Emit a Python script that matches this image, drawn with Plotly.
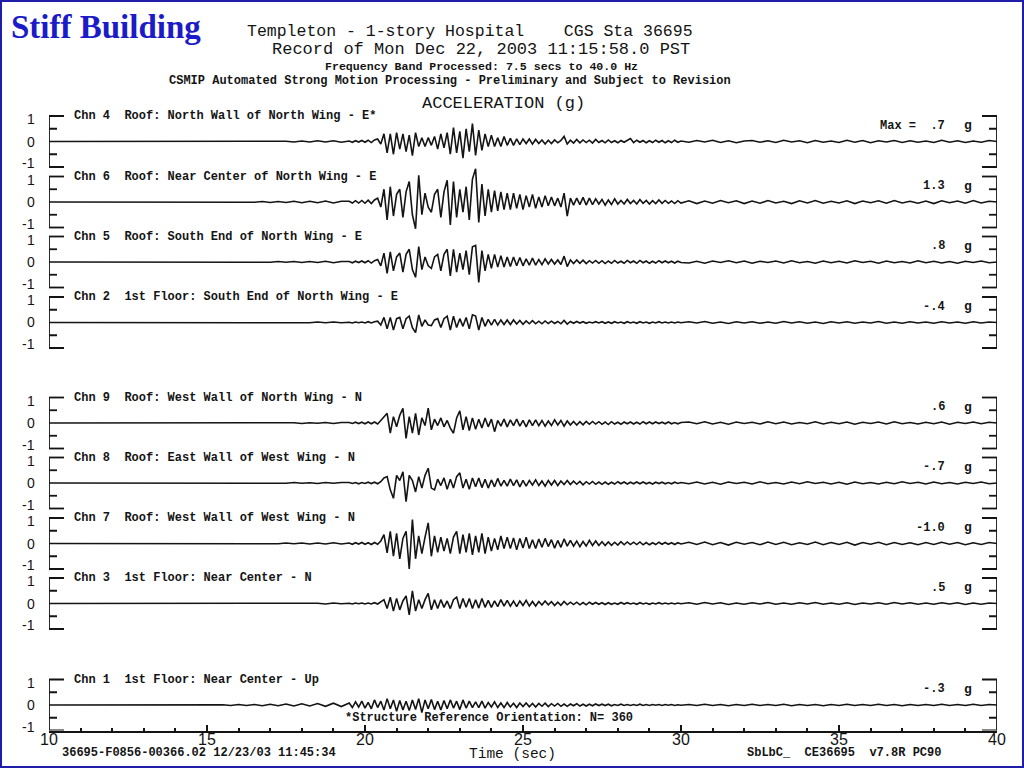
import numpy as np
import plotly.graph_objects as go

# ---------------- data ----------------
CHANNEL_LABELS = [
    "Chn 4  Roof: North Wall of North Wing - E*",
    "Chn 6  Roof: Near Center of North Wing - E",
    "Chn 5  Roof: South End of North Wing - E",
    "Chn 2  1st Floor: South End of North Wing - E",
    "Chn 9  Roof: West Wall of North Wing - N",
    "Chn 8  Roof: East Wall of West Wing - N",
    "Chn 7  Roof: West Wall of West Wing - N",
    "Chn 3  1st Floor: Near Center - N",
    "Chn 1  1st Floor: Near Center - Up",
]
MAX_VALUES = ["Max =  .7", "1.3", ".8", "-.4", ".6", "-.7", "-1.0", ".5", "-.3"]
Y_TICK_VALS = [-1, 0, 1]
Y_TICK_TEXT = ["-1", "0", "1"]
X_TICK_VALS = [10, 15, 20, 25, 30, 35, 40]
X_TICK_TEXT = ["10", "15", "20", "25", "30", "35", "40"]

# sample times (s): quiet lead-in, strong-motion window, coda
PRE_T = np.round(np.arange(15.0, 19.26, 0.25), 2)     # 18 samples
MAIN_T = np.round(np.arange(19.5, 30.001, 0.1), 2)    # 106 samples
TAIL_T = np.round(np.arange(30.25, 40.001, 0.25), 2)  # 40 samples

# accelerations (g) read from the record
chn4_pre = [0, 0, 0, 0, 0, 0, 0, 0, 0.01, -0.01, 0.01, -0.02, 0.02, -0.02, 0.03, -0.02, 0.03, -0.03]
chn4_main = [
    0.02, -0.03, 0.03, -0.02, 0.04, -0.03, 0.05, -0.04, 0.06, 0.1,
    -0.1, 0.3, -0.45, 0.3, -0.5, 0.35, -0.3, 0.3, -0.4, 0.25,
    -0.55, 0.35, -0.2, 0.15, -0.2, 0.15, -0.15, 0.2, -0.3, 0.3,
    -0.25, 0.35, -0.5, 0.55, -0.45, 0.4, -0.65, 0.5, -0.4, 0.7,
    -0.55, 0.45, -0.35, 0.3, -0.2, 0.25, -0.2, 0.15, -0.2, 0.2,
    -0.15, 0.12, -0.15, 0.1, -0.12, 0.1, -0.08, 0.1, -0.1, 0.08,
    -0.08, 0.06, -0.1, 0.05, -0.08, 0.06, -0.05, 0.04, 0.2, -0.1,
    0.05, -0.06, 0.08, -0.05, 0.06, -0.04, 0.05, -0.06, 0.08, -0.04,
    0.04, -0.05, 0.06, -0.04, 0.03, -0.05, 0.04, -0.03, 0.05, 0.12,
    -0.04, 0.05, -0.03, 0.04, -0.05, 0.03, -0.04, 0.05, -0.03, 0.04,
    -0.05, 0.03, -0.04, 0.05, -0.03, 0.02,
]
chn4_tail = [
    -0.03, 0.04, -0.02, 0.05, -0.04, 0.03, -0.05, 0.02, 0.04, -0.03,
    0.03, -0.04, 0.05, -0.02, 0.03, -0.05, 0.04, -0.03, 0.02, -0.04,
    0.05, -0.03, 0.04, -0.05, 0.03, -0.02, 0.04, -0.04, 0.03, -0.03,
    0.02, -0.04, 0.05, -0.03, 0.03, -0.04, 0.02, -0.03, 0.04, 0.0,
]

chn6_pre = [0, 0, 0, 0.01, -0.01, 0.01, -0.01, 0.02, -0.02, 0.02, -0.02, 0.03, -0.03, 0.03, -0.03, 0.04, -0.04, 0.03]
chn6_main = [
    0.03, -0.04, 0.05, -0.04, 0.06, -0.05, 0.07, -0.06, 0.08, 0.15,
    -0.2, 0.5, -0.7, 0.6, -0.55, 0.3, 0.5, -0.6, 0.4, 0.8,
    -0.5, -1.05, 1.05, -0.5, 0.35, -0.2, -0.4, 0.3, 0.5, -0.6,
    0.4, 0.85, -0.9, 0.8, -0.6, 0.5, -0.4, 0.6, -0.7, 0.9,
    1.3, -0.8, 0.7, -0.55, 0.5, -0.4, 0.45, -0.35, 0.4, -0.3,
    0.35, -0.3, 0.35, -0.25, 0.3, -0.3, 0.25, -0.2, 0.3, -0.25,
    0.2, -0.2, 0.25, -0.15, 0.2, -0.15, 0.15, -0.2, 0.35, -0.55,
    0.15, -0.12, 0.15, -0.1, 0.18, -0.12, 0.15, -0.1, 0.12, -0.08,
    0.1, -0.12, 0.08, -0.1, 0.12, -0.08, 0.06, -0.08, 0.1, -0.06,
    0.06, -0.08, 0.1, -0.05, 0.06, -0.08, 0.05, -0.06, 0.08, -0.05,
    0.06, -0.05, 0.04, -0.06, 0.05, -0.04,
]
chn6_tail = [
    0.05, -0.06, 0.04, -0.05, 0.06, -0.03, 0.05, -0.06, 0.04, -0.05,
    0.06, -0.04, 0.03, -0.06, 0.05, -0.04, 0.06, -0.05, 0.03, -0.04,
    0.05, -0.06, 0.04, -0.03, 0.05, -0.05, 0.06, -0.04, 0.03, -0.05,
    0.04, -0.06, 0.05, -0.03, 0.04, -0.05, 0.06, -0.04, 0.03, 0.0,
]

chn5_pre = [0, 0, 0, 0, 0, 0.01, -0.01, 0.01, -0.01, 0.02, -0.01, 0.02, -0.02, 0.02, -0.02, 0.03, -0.03, 0.02]
chn5_main = [
    0.02, -0.03, 0.03, -0.02, 0.04, -0.03, 0.05, -0.04, 0.05, 0.1,
    -0.15, 0.35, -0.45, 0.4, -0.35, 0.2, 0.35, -0.4, 0.3, 0.5,
    -0.3, -0.6, 0.6, -0.3, 0.2, -0.15, -0.25, 0.2, 0.3, -0.35,
    0.3, 0.5, -0.55, 0.5, -0.4, 0.35, -0.3, 0.45, -0.5, 0.6,
    0.65, -0.8, 0.45, -0.35, 0.3, -0.25, 0.3, -0.2, 0.25, -0.2,
    0.2, -0.18, 0.2, -0.15, 0.18, -0.15, 0.12, -0.12, 0.15, -0.12,
    0.1, -0.1, 0.12, -0.08, 0.1, -0.08, 0.08, -0.1, 0.23, -0.18,
    0.08, -0.06, 0.08, -0.05, 0.07, -0.06, 0.05, -0.04, 0.06, -0.05,
    0.05, -0.06, 0.04, -0.05, 0.06, -0.04, 0.03, -0.05, 0.06, -0.03,
    0.04, -0.05, 0.06, -0.03, 0.04, -0.05, 0.03, -0.04, 0.05, -0.03,
    0.04, -0.03, 0.03, -0.04, 0.03, -0.02,
]
chn5_tail = [
    -0.04, 0.03, -0.05, 0.04, -0.02, 0.05, -0.03, 0.04, -0.05, 0.03,
    -0.02, 0.04, -0.04, 0.05, -0.03, 0.02, -0.05, 0.04, -0.03, 0.03,
    -0.04, 0.05, -0.02, 0.03, -0.05, 0.04, -0.03, 0.02, -0.04, 0.05,
    -0.03, 0.03, -0.04, 0.02, -0.05, 0.03, -0.02, 0.04, -0.03, 0.0,
]

chn2_pre = [0, 0, 0, 0, 0, 0, 0, 0, 0.01, -0.01, 0.01, -0.01, 0.01, -0.01, 0.02, -0.01, 0.02, -0.01]
chn2_main = [
    0.01, -0.02, 0.02, -0.01, 0.02, -0.02, 0.03, -0.02, 0.03, 0.05,
    -0.1, 0.2, -0.25, 0.2, -0.3, 0.15, 0.2, -0.25, 0.15, 0.25,
    -0.2, -0.4, 0.3, -0.15, 0.1, -0.1, -0.12, 0.1, 0.15, -0.2,
    0.15, 0.25, -0.3, 0.25, -0.2, 0.15, -0.15, 0.2, -0.25, 0.3,
    0.25, -0.3, 0.2, -0.15, 0.12, -0.1, 0.12, -0.1, 0.1, -0.08,
    0.1, -0.08, 0.1, -0.06, 0.08, -0.07, 0.06, -0.05, 0.07, -0.05,
    0.05, -0.05, 0.06, -0.04, 0.05, -0.04, 0.04, -0.05, 0.08, -0.06,
    0.04, -0.03, 0.04, -0.02, 0.03, -0.03, 0.02, -0.02, 0.03, -0.02,
    0.03, -0.03, 0.02, -0.03, 0.03, -0.02, 0.02, -0.03, 0.03, -0.02,
    0.02, -0.03, 0.03, -0.02, 0.02, -0.03, 0.02, -0.02, 0.03, -0.02,
    0.02, -0.02, 0.02, -0.02, 0.02, -0.01,
]
chn2_tail = [
    0.03, -0.02, 0.04, -0.03, 0.02, -0.04, 0.03, -0.02, 0.03, -0.03,
    0.02, -0.03, 0.04, -0.02, 0.03, -0.03, 0.02, -0.04, 0.03, -0.02,
    0.03, -0.03, 0.02, -0.02, 0.04, -0.03, 0.02, -0.03, 0.03, -0.02,
    0.02, -0.03, 0.03, -0.02, 0.02, -0.03, 0.03, -0.02, 0.02, 0.0,
]

chn9_pre = [0, 0, 0, 0, 0, 0, 0, 0.01, -0.01, 0.01, -0.01, 0.01, -0.02, 0.01, -0.01, 0.02, -0.02, 0.02]
chn9_main = [
    0.02, -0.02, 0.03, -0.02, 0.03, -0.03, 0.04, -0.03, 0.04, -0.04,
    0.1, 0.25, 0.38, -0.4, 0.25, -0.15, 0.3, 0.58, -0.6, 0.25,
    -0.4, 0.38, -0.47, 0.2, -0.1, 0.58, -0.27, 0.15, -0.1, 0.2,
    -0.15, 0.1, -0.2, -0.4, 0.2, 0.48, -0.27, 0.25, -0.3, 0.2,
    -0.25, 0.15, -0.2, 0.2, -0.15, 0.15, -0.34, 0.1, -0.12, 0.15,
    -0.15, 0.12, -0.1, 0.15, -0.12, 0.1, -0.15, 0.12, -0.1, 0.12,
    -0.1, 0.1, -0.12, 0.08, -0.1, 0.12, -0.08, 0.1, -0.12, 0.08,
    -0.08, 0.06, -0.08, 0.05, -0.07, 0.06, -0.05, 0.06, -0.04, 0.05,
    -0.05, 0.04, -0.06, 0.05, -0.04, 0.03, -0.05, 0.04, -0.03, 0.04,
    -0.04, 0.03, -0.04, 0.05, -0.03, 0.04, -0.03, 0.04, -0.02, 0.03,
    -0.03, 0.04, -0.03, 0.02, -0.03, 0.02,
]
chn9_tail = [
    0.04, -0.03, 0.05, -0.04, 0.03, -0.05, 0.04, -0.02, 0.03, -0.04,
    0.05, -0.03, 0.04, -0.04, 0.02, -0.03, 0.05, -0.04, 0.03, -0.03,
    0.04, -0.05, 0.03, -0.02, 0.04, -0.04, 0.05, -0.03, 0.02, -0.04,
    0.03, -0.03, 0.04, -0.05, 0.03, -0.02, 0.04, -0.03, 0.03, 0.0,
]

chn8_pre = [0, 0, 0, 0, 0, 0, 0, 0.01, -0.01, 0.01, -0.01, 0.02, -0.01, 0.01, -0.02, 0.02, -0.01, 0.02]
chn8_main = [
    0.02, -0.02, 0.02, -0.03, 0.02, -0.02, 0.03, -0.02, 0.03, -0.03,
    0.05, 0.2, 0.25, -0.27, -0.6, 0.3, 0.1, 0.44, -0.73, 0.3,
    0.1, -0.35, 0.25, -0.2, 0.3, 0.58, -0.2, -0.27, 0.15, -0.1,
    0.2, -0.25, 0.15, -0.2, 0.25, 0.4, -0.2, 0.15, -0.25, 0.2,
    -0.15, 0.2, -0.18, 0.15, -0.2, 0.12, -0.15, 0.18, -0.12, 0.1,
    -0.12, 0.15, -0.1, 0.12, -0.15, 0.1, -0.12, 0.1, -0.08, 0.12,
    -0.1, 0.08, -0.12, 0.1, -0.08, 0.1, -0.1, 0.08, -0.06, 0.1,
    -0.06, 0.07, -0.05, 0.06, -0.07, 0.05, -0.04, 0.06, -0.05, 0.04,
    -0.05, 0.04, -0.05, 0.03, -0.04, 0.05, -0.03, 0.04, -0.04, 0.03,
    -0.03, 0.04, -0.03, 0.04, -0.03, 0.02, -0.04, 0.03, -0.02, 0.03,
    -0.03, 0.02, -0.03, 0.03, -0.02, 0.02,
]
chn8_tail = [
    -0.03, 0.04, -0.04, 0.03, -0.05, 0.04, -0.02, 0.03, -0.04, 0.05,
    -0.03, 0.02, -0.04, 0.04, -0.03, 0.05, -0.02, 0.03, -0.04, 0.03,
    -0.05, 0.04, -0.03, 0.02, -0.04, 0.03, -0.03, 0.05, -0.02, 0.03,
    -0.04, 0.04, -0.03, 0.02, -0.04, 0.03, -0.02, 0.04, -0.03, 0.0,
]

chn7_pre = [0, 0, 0, 0, 0, 0, 0.01, -0.01, 0.01, -0.01, 0.02, -0.01, 0.02, -0.02, 0.02, -0.02, 0.03, -0.02]
chn7_main = [
    0.02, -0.03, 0.03, -0.02, 0.04, -0.03, 0.03, -0.04, 0.04, -0.03,
    0.1, 0.35, -0.37, 0.48, -0.5, 0.4, -0.6, 0.2, 0.48, -1.0,
    0.94, -0.6, 0.3, -0.4, 0.25, 0.81, -0.5, 0.3, -0.35, 0.25,
    -0.3, 0.2, -0.4, 0.25, 0.48, -0.4, 0.35, -0.35, 0.4, -0.45,
    0.3, -0.35, 0.4, -0.4, 0.25, -0.3, 0.2, -0.25, 0.3, -0.2,
    0.25, -0.2, 0.22, -0.25, 0.2, -0.18, 0.25, -0.2, 0.15, -0.2,
    0.18, -0.15, 0.2, -0.12, 0.15, -0.18, 0.12, -0.15, 0.18, -0.1,
    0.12, -0.1, 0.1, -0.12, 0.08, -0.1, 0.12, -0.08, 0.1, -0.08,
    0.07, -0.08, 0.06, -0.07, 0.05, -0.06, 0.07, -0.05, 0.06, -0.04,
    0.05, -0.04, 0.06, -0.05, 0.04, -0.05, 0.03, -0.04, 0.05, -0.03,
    0.04, -0.03, 0.03, -0.04, 0.03, -0.02,
]
chn7_tail = [
    0.05, -0.04, 0.06, -0.05, 0.04, -0.06, 0.05, -0.03, 0.04, -0.05,
    0.06, -0.04, 0.05, -0.05, 0.03, -0.04, 0.06, -0.05, 0.04, -0.04,
    0.05, -0.06, 0.04, -0.03, 0.05, -0.05, 0.04, -0.04, 0.03, -0.05,
    0.04, -0.04, 0.05, -0.03, 0.04, -0.05, 0.03, -0.04, 0.04, 0.0,
]

chn3_pre = [0, 0, 0, 0, 0, 0, 0, 0, 0.01, -0.01, 0.01, -0.01, 0.01, -0.01, 0.01, -0.02, 0.02, -0.01]
chn3_main = [
    0.01, -0.02, 0.02, -0.01, 0.02, -0.02, 0.02, -0.02, 0.03, -0.02,
    0.05, 0.15, -0.2, 0.25, -0.3, 0.2, -0.25, 0.1, 0.3, -0.45,
    0.5, -0.3, 0.15, -0.2, 0.15, 0.4, -0.25, 0.15, -0.2, 0.15,
    -0.15, 0.1, -0.2, 0.15, 0.25, -0.2, 0.2, -0.15, 0.2, -0.2,
    0.15, -0.18, 0.2, -0.15, 0.12, -0.15, 0.1, -0.12, 0.15, -0.1,
    0.12, -0.1, 0.1, -0.12, 0.1, -0.08, 0.12, -0.1, 0.08, -0.1,
    0.08, -0.06, 0.1, -0.05, 0.07, -0.08, 0.05, -0.07, 0.08, -0.05,
    0.05, -0.04, 0.05, -0.05, 0.04, -0.05, 0.05, -0.03, 0.04, -0.03,
    0.03, -0.04, 0.03, -0.03, 0.02, -0.03, 0.04, -0.02, 0.03, -0.02,
    0.02, -0.03, 0.03, -0.02, 0.02, -0.03, 0.02, -0.02, 0.03, -0.02,
    0.02, -0.02, 0.02, -0.02, 0.02, -0.01,
]
chn3_tail = [
    0.03, -0.03, 0.04, -0.02, 0.03, -0.04, 0.02, -0.03, 0.03, -0.02,
    0.04, -0.03, 0.02, -0.03, 0.03, -0.02, 0.04, -0.03, 0.02, -0.03,
    0.03, -0.04, 0.02, -0.02, 0.03, -0.03, 0.04, -0.02, 0.03, -0.03,
    0.02, -0.03, 0.03, -0.02, 0.03, -0.04, 0.02, -0.03, 0.02, 0.0,
]

chn1_pre = [0.01, -0.01, 0.01, -0.02, 0.02, -0.02, 0.02, -0.03, 0.03, -0.03, 0.04, -0.04, 0.05, -0.04, 0.06, -0.05, 0.07, -0.06]
chn1_main = [
    0.08, -0.1, 0.12, -0.08, 0.15, -0.12, 0.1, -0.15, 0.2, -0.1,
    0.15, -0.2, 0.25, -0.15, 0.2, -0.25, 0.18, -0.2, 0.15, -0.22,
    0.2, -0.18, 0.25, -0.3, 0.2, -0.15, 0.22, -0.18, 0.15, -0.2,
    0.18, -0.15, 0.2, -0.12, 0.15, -0.18, 0.2, -0.12, 0.15, -0.1,
    0.12, -0.1, 0.15, -0.12, 0.1, -0.08, 0.12, -0.1, 0.08, -0.1,
    0.1, -0.08, 0.07, -0.1, 0.08, -0.06, 0.08, -0.07, 0.06, -0.08,
    0.06, -0.05, 0.07, -0.06, 0.05, -0.04, 0.06, -0.05, 0.04, -0.05,
    0.04, -0.03, 0.05, -0.04, 0.03, -0.04, 0.03, -0.03, 0.04, -0.02,
    0.03, -0.02, 0.03, -0.03, 0.02, -0.02, 0.03, -0.02, 0.02, -0.02,
    0.02, -0.02, 0.03, -0.02, 0.02, -0.02, 0.02, -0.01, 0.02, -0.02,
    0.02, -0.01, 0.02, -0.02, 0.01, -0.01,
]
chn1_tail = [
    0.02, -0.02, 0.03, -0.02, 0.02, -0.03, 0.02, -0.02, 0.03, -0.02,
    0.02, -0.02, 0.03, -0.03, 0.02, -0.02, 0.02, -0.03, 0.02, -0.02,
    0.03, -0.02, 0.02, -0.02, 0.03, -0.02, 0.02, -0.03, 0.02, -0.02,
    0.02, -0.02, 0.03, -0.02, 0.02, -0.02, 0.03, -0.02, 0.02, 0.0,
]

SERIES = [
    (chn4_pre, chn4_main, chn4_tail),
    (chn6_pre, chn6_main, chn6_tail),
    (chn5_pre, chn5_main, chn5_tail),
    (chn2_pre, chn2_main, chn2_tail),
    (chn9_pre, chn9_main, chn9_tail),
    (chn8_pre, chn8_main, chn8_tail),
    (chn7_pre, chn7_main, chn7_tail),
    (chn3_pre, chn3_main, chn3_tail),
    (chn1_pre, chn1_main, chn1_tail),
]

# ---------------- layout / style ----------------
W, H = 1024, 768
MONO = "Liberation Mono"
SANS = "Liberation Sans"
INK = "#141414"
ZERO_PX = [141.5, 202, 262, 322.5, 423, 483, 543.5, 603.5, 705]  # panel centre lines (px)
HALF = 25.5      # px per 1 g
R = 1.45         # headroom for peaks above 1 g
X_LEFT_PX, X_RIGHT_PX = 49, 997
TICK_LABEL_SHIFT = {-1: 4, 0: 0, 1: -3}   # px nudges so stacked -1 / 1 labels don't collide


def py(px):
    return 1 - px / H


fig = go.Figure()
layout = dict(
    width=W, height=H,
    margin=dict(l=0, r=0, t=0, b=0),
    paper_bgcolor="white", plot_bgcolor="rgba(0,0,0,0)",
    showlegend=False,
)
shapes = []
annotations = []

n = len(SERIES)
for k, (pre, main, tail) in enumerate(SERIES):
    assert len(pre) == len(PRE_T) and len(main) == len(MAIN_T) and len(tail) == len(TAIL_T), k
    yname = "y" if k == 0 else f"y{k + 1}"
    ykey = "yaxis" if k == 0 else f"yaxis{k + 1}"
    z = ZERO_PX[k]
    if k == n - 1:
        rng = [-1, R]
        dom = [py(z + HALF), py(z - R * HALF)]
    else:
        rng = [-R, R]
        dom = [py(z + R * HALF), py(z - R * HALF)]
    layout[ykey] = dict(
        domain=dom, range=rng, anchor="x",
        tickmode="array", tickvals=Y_TICK_VALS, ticktext=Y_TICK_TEXT,
        showticklabels=False,
        ticks="", showline=False, showgrid=False, zeroline=False,
        automargin=False, fixedrange=True,
    )
    t = np.concatenate([[10.0], PRE_T, MAIN_T, TAIL_T])
    v = np.concatenate([[0.0], pre, main, tail])
    fig.add_trace(go.Scatter(
        x=t, y=v, mode="lines", xaxis="x", yaxis=yname,
        line=dict(color=INK, width=1.6), hoverinfo="skip",
    ))

    # axis value labels (-1, 0, 1) placed on this panel's scale
    for val, txt in zip(Y_TICK_VALS, Y_TICK_TEXT):
        annotations.append(dict(xref="x", yref=yname, x=10, y=val, xshift=-12,
                                yshift=TICK_LABEL_SHIFT[val],
                                xanchor="right", yanchor="middle", showarrow=False,
                                text=txt, font=dict(family=SANS, size=14, color=INK)))

    # bracket frames on both sides
    line_style = dict(color=INK, width=1.8)
    for xa, sgn in ((10, 1), (40, -1)):
        shapes.append(dict(type="line", xref="x", yref=yname,
                           x0=xa, x1=xa, y0=-1, y1=1, line=line_style))
        for yv, ln in ((1, 15), (0.5, 8), (-0.5, 8), (-1, 15)):
            shapes.append(dict(type="line", xref="x", yref=yname,
                               xsizemode="pixel", xanchor=xa,
                               x0=0, x1=sgn * ln, y0=yv, y1=yv, line=line_style))

    annotations.append(dict(xref="x", yref=yname, x=10, y=1, xshift=23,
                            xanchor="left", yanchor="middle", showarrow=False,
                            text="<b>" + CHANNEL_LABELS[k].replace(" ", "&nbsp;") + "</b>",
                            font=dict(family=MONO, size=12, color=INK)))
    annotations.append(dict(xref="x", yref=yname, x=40, y=0.62, xshift=-50,
                            xanchor="right", yanchor="middle", showarrow=False,
                            text="<b>" + MAX_VALUES[k].replace(" ", "&nbsp;") + "</b>",
                            font=dict(family=MONO, size=12, color=INK)))
    annotations.append(dict(xref="x", yref=yname, x=40, y=0.62, xshift=-29,
                            xanchor="center", yanchor="middle", showarrow=False,
                            text="<b>g</b>", font=dict(family=MONO, size=13, color=INK)))

layout["xaxis"] = dict(
    domain=[X_LEFT_PX / W, X_RIGHT_PX / W], range=[10, 40], anchor=f"y{n}",
    showline=True, linecolor=INK, linewidth=2,
    tickmode="array", tickvals=X_TICK_VALS, ticktext=X_TICK_TEXT,
    ticks="inside", ticklen=6, tickwidth=1.5, tickcolor=INK,
    minor=dict(tick0=10, dtick=1, ticks="inside", ticklen=3, tickwidth=1.5, tickcolor=INK),
    showgrid=False, zeroline=False, automargin=False, fixedrange=True,
    tickfont=dict(family=SANS, size=16, color=INK), ticklabelstandoff=-7,
)


def paper_text(text, xpx, ypx, size, anchor="center", family=MONO, color=INK, bold=False):
    txt = text.replace(" ", "&nbsp;")
    if bold:
        txt = f"<b>{txt}</b>"
    annotations.append(dict(xref="paper", yref="paper", x=xpx / W, y=py(ypx),
                            xanchor=anchor, yanchor="middle", showarrow=False,
                            text=txt, font=dict(family=family, size=size, color=color)))


paper_text("Stiff Building", 9, 27, 33, anchor="left", family="Liberation Serif",
           color="#1b1bc8", bold=True)
paper_text("Templeton - 1-story Hospital    CGS Sta 36695", 470, 31.5, 16.5)
paper_text("Record of Mon Dec 22, 2003 11:15:58.0 PST", 481, 49.5, 17)
paper_text("Frequency Band Processed: 7.5 secs to 40.0 Hz", 481, 66, 11.6, bold=True)
paper_text("CSMIP Automated Strong Motion Processing - Preliminary and Subject to Revision",
           450, 80.5, 12, bold=True)
paper_text("ACCELERATION (g)", 503, 103, 17)
paper_text("*Structure Reference Orientation: N= 360", 343, 718, 12, anchor="left", bold=True)
paper_text("36695-F0856-00366.02 12/23/03 11:45:34", 60, 753, 12, anchor="left", bold=True)
paper_text("Time (sec)", 512, 754, 14.5)
paper_text("SbLbC_  CE36695  v7.8R PC90", 745, 753, 12, anchor="left", bold=True)

# page frame
shapes.append(dict(type="rect", xref="paper", yref="paper", x0=0, x1=1, y0=0, y1=1,
                   line=dict(color="#1e1ea8", width=4)))

layout["shapes"] = shapes
layout["annotations"] = annotations
fig.update_layout(**layout)

fig.write_html("out.html", config={"displayModeBar": False, "responsive": False},
               post_script="document.body.style.margin='0';")
